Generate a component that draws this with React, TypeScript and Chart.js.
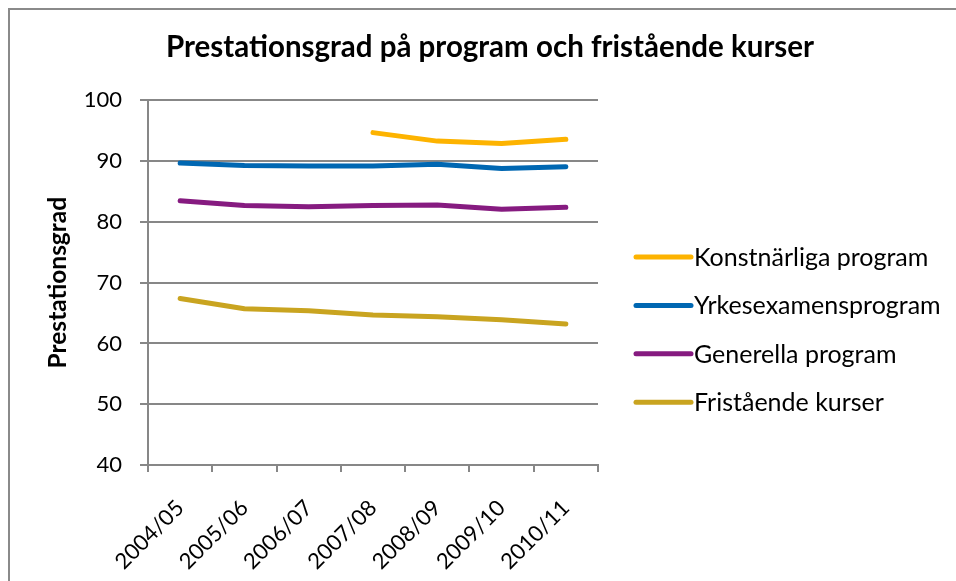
import React, { useEffect, useRef } from "react";
import { Chart, registerables } from "chart.js";

Chart.register(...registerables);

const categories = ["2004/05", "2005/06", "2006/07", "2007/08", "2008/09", "2009/10", "2010/11"];
const konstnarliga = [null, null, null, 94.7, 93.3, 92.9, 93.6];
const yrkesexamen = [89.7, 89.3, 89.2, 89.2, 89.5, 88.8, 89.1];
const generella = [83.5, 82.7, 82.5, 82.7, 82.8, 82.1, 82.4];
const fristaende = [67.4, 65.7, 65.4, 64.7, 64.4, 63.9, 63.2];
const seriesNames = ["Konstnärliga program", "Yrkesexamensprogram", "Generella program", "Fristående kurser"];
const seriesColors = ["#FDB300", "#0067B2", "#861B80", "#C9A420"];
const yTicks = { min: 40, max: 100, step: 10 };

const FONT = "Lato, 'Open Sans', sans-serif";
const GRID = "#878787";

const sideLegend = {
  id: "sideLegend",
  afterDraw(chart: any) {
    const ctx = chart.ctx;
    const area = chart.chartArea;
    ctx.save();
    ctx.font = `25px ${FONT}`;
    ctx.textBaseline = "middle";
    ctx.textAlign = "left";
    chart.data.datasets.forEach((ds: any, i: number) => {
      const y = 247 + i * 48.4;
      const x0 = area.right + 38;
      ctx.strokeStyle = ds.borderColor;
      ctx.lineWidth = 5;
      ctx.lineCap = "round";
      ctx.beginPath();
      ctx.moveTo(x0, y);
      ctx.lineTo(x0 + 55, y);
      ctx.stroke();
      ctx.fillStyle = "#000";
      ctx.fillText(ds.label, x0 + 58, y + 1);
    });
    ctx.restore();
  },
};

export default function App() {
  const ref = useRef<HTMLCanvasElement>(null);
  useEffect(() => {
    document.documentElement.style.overflow = "hidden";
    document.body.style.overflow = "hidden";
    const data = [konstnarliga, yrkesexamen, generella, fristaende];
    const chart = new Chart(ref.current!, {
      type: "line",
      data: {
        labels: categories,
        datasets: data.map((d, i) => ({
          label: seriesNames[i],
          data: d,
          borderColor: seriesColors[i],
          backgroundColor: seriesColors[i],
          borderWidth: 5,
          pointRadius: 0,
          tension: 0,
          borderCapStyle: "round" as const,
          borderJoinStyle: "round" as const,
          spanGaps: false,
        })),
      },
      options: {
        animation: false,
        responsive: false,
        layout: { padding: 0 },
        plugins: {
          legend: { display: false },
          tooltip: { enabled: false },
          title: {
            display: true,
            text: "Prestationsgrad på program och fristående kurser",
            color: "#000",
            font: { family: FONT, size: 29.5, weight: "bold" },
            padding: { top: 20, bottom: 35 },
          },
        },
        scales: {
          x: {
            offset: true,
            grid: { display: true, offset: true, drawOnChartArea: false, drawTicks: true, tickLength: 7, color: GRID, lineWidth: 2 },
            border: { display: true, color: GRID, width: 2 },
            ticks: { color: "#000", font: { family: FONT, size: 22 }, minRotation: 45, maxRotation: 45, padding: 23, autoSkip: false },
            afterFit: (s: any) => { s.height = 116; },
          },
          y: {
            min: yTicks.min,
            max: yTicks.max,
            grid: { color: GRID, lineWidth: 2, tickLength: 8 },
            border: { display: true, color: GRID, width: 2 },
            ticks: { stepSize: yTicks.step, color: "#000", font: { family: FONT, size: 22 }, padding: 18 },
            title: {
              display: true,
              text: "Prestationsgrad",
              color: "#000",
              font: { family: FONT, size: 24.5, weight: "bold" },
              padding: { top: 33, bottom: 0 },
            },
            afterFit: (s: any) => { s.width = 138; },
          },
          legendSpace: {
            type: "linear",
            position: "right",
            display: true,
            grid: { display: false, drawTicks: false },
            border: { display: false },
            ticks: { display: false },
            afterFit: (s: any) => { s.width = 372; },
          },
        },
      },
      plugins: [sideLegend],
    });
    return () => chart.destroy();
  }, []);
  return (
    <div style={{ position: "fixed", left: 8, top: 8, borderTop: "2px solid #8a8a8a", borderLeft: "2px solid #8a8a8a", borderRight: "none", width: 1000, height: 600, background: "#fff" }}>
      <canvas ref={ref} width={960} height={571} style={{ display: "block" }} />
    </div>
  );
}
